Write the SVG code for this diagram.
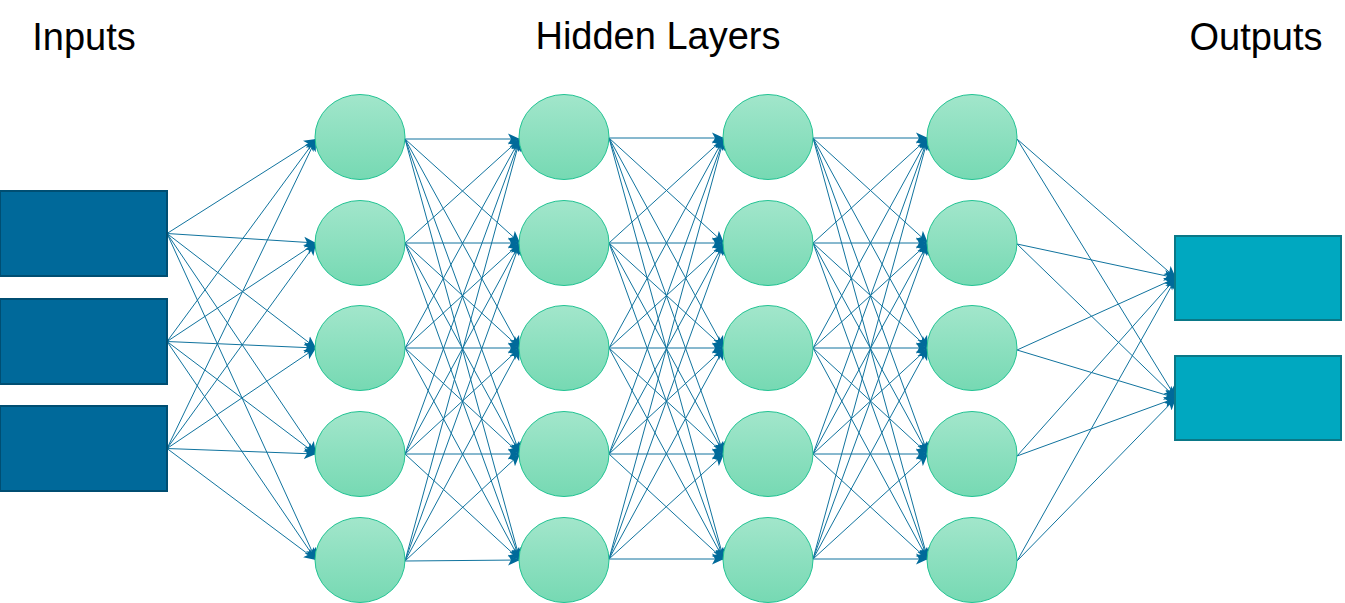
<svg xmlns="http://www.w3.org/2000/svg" width="1345" height="603" viewBox="0 0 1345 603">
<style>
.title{font-family:"Liberation Sans",Arial,sans-serif;font-size:38px;fill:#000;text-anchor:middle}
.inp{fill:#00699a;stroke:#004e72;stroke-width:2}
.out{fill:#00a8c0;stroke:#0a7887;stroke-width:2}
.neu{fill:url(#ng);stroke:#22c393;stroke-width:1}
#connectors line{stroke:#10739e;stroke-width:1;fill:none;marker-end:url(#ah)}
</style>
<defs>
<linearGradient id="ng" x1="0" y1="0" x2="0" y2="1">
<stop offset="0" stop-color="#a2e6cb"/>
<stop offset="1" stop-color="#76d9b3"/>
</linearGradient>
<marker id="ah" markerUnits="userSpaceOnUse" markerWidth="13" markerHeight="12" refX="12" refY="6" orient="auto" viewBox="0 0 13 12">
<path d="M0,0.5 L12,6 L0,11.5 L3,6 Z" fill="#006a9a"/>
</marker>
</defs>
<rect width="1345" height="603" fill="#ffffff"/>
<g id="titles">
<text class="title" x="84" y="50">Inputs</text>
<text class="title" x="658" y="49">Hidden Layers</text>
<text class="title" x="1256" y="50">Outputs</text>
</g>
<g id="connectors">
<line x1="167" y1="233.5" x2="316" y2="139"/>
<line x1="167" y1="233.5" x2="316" y2="243"/>
<line x1="167" y1="233.5" x2="316" y2="348"/>
<line x1="167" y1="233.5" x2="316" y2="454"/>
<line x1="167" y1="233.5" x2="316" y2="560"/>
<line x1="167" y1="341.5" x2="316" y2="139"/>
<line x1="167" y1="341.5" x2="316" y2="243"/>
<line x1="167" y1="341.5" x2="316" y2="348"/>
<line x1="167" y1="341.5" x2="316" y2="454"/>
<line x1="167" y1="341.5" x2="316" y2="560"/>
<line x1="167" y1="448.5" x2="316" y2="139"/>
<line x1="167" y1="448.5" x2="316" y2="243"/>
<line x1="167" y1="448.5" x2="316" y2="348"/>
<line x1="167" y1="448.5" x2="316" y2="454"/>
<line x1="167" y1="448.5" x2="316" y2="560"/>

<line x1="405" y1="139" x2="520" y2="139"/>
<line x1="405" y1="139" x2="520" y2="243"/>
<line x1="405" y1="139" x2="520" y2="348"/>
<line x1="405" y1="139" x2="520" y2="454"/>
<line x1="405" y1="139" x2="520" y2="560"/>
<line x1="405" y1="243" x2="520" y2="139"/>
<line x1="405" y1="243" x2="520" y2="243"/>
<line x1="405" y1="243" x2="520" y2="348"/>
<line x1="405" y1="243" x2="520" y2="454"/>
<line x1="405" y1="243" x2="520" y2="560"/>
<line x1="405" y1="348" x2="520" y2="139"/>
<line x1="405" y1="348" x2="520" y2="243"/>
<line x1="405" y1="348" x2="520" y2="348"/>
<line x1="405" y1="348" x2="520" y2="454"/>
<line x1="405" y1="348" x2="520" y2="560"/>
<line x1="405" y1="454" x2="520" y2="139"/>
<line x1="405" y1="454" x2="520" y2="243"/>
<line x1="405" y1="454" x2="520" y2="348"/>
<line x1="405" y1="454" x2="520" y2="454"/>
<line x1="405" y1="454" x2="520" y2="560"/>
<line x1="405" y1="561" x2="520" y2="139"/>
<line x1="405" y1="561" x2="520" y2="243"/>
<line x1="405" y1="561" x2="520" y2="348"/>
<line x1="405" y1="561" x2="520" y2="454"/>
<line x1="405" y1="561" x2="520" y2="560"/>

<line x1="609" y1="138" x2="724" y2="138"/>
<line x1="609" y1="138" x2="724" y2="243"/>
<line x1="609" y1="138" x2="724" y2="348"/>
<line x1="609" y1="138" x2="724" y2="454"/>
<line x1="609" y1="138" x2="724" y2="560"/>
<line x1="609" y1="243" x2="724" y2="138"/>
<line x1="609" y1="243" x2="724" y2="243"/>
<line x1="609" y1="243" x2="724" y2="348"/>
<line x1="609" y1="243" x2="724" y2="454"/>
<line x1="609" y1="243" x2="724" y2="560"/>
<line x1="609" y1="348" x2="724" y2="138"/>
<line x1="609" y1="348" x2="724" y2="243"/>
<line x1="609" y1="348" x2="724" y2="348"/>
<line x1="609" y1="348" x2="724" y2="454"/>
<line x1="609" y1="348" x2="724" y2="560"/>
<line x1="609" y1="454" x2="724" y2="138"/>
<line x1="609" y1="454" x2="724" y2="243"/>
<line x1="609" y1="454" x2="724" y2="348"/>
<line x1="609" y1="454" x2="724" y2="454"/>
<line x1="609" y1="454" x2="724" y2="560"/>
<line x1="609" y1="559" x2="724" y2="138"/>
<line x1="609" y1="559" x2="724" y2="243"/>
<line x1="609" y1="559" x2="724" y2="348"/>
<line x1="609" y1="559" x2="724" y2="454"/>
<line x1="609" y1="559" x2="724" y2="559"/>

<line x1="813" y1="138" x2="928" y2="138"/>
<line x1="813" y1="138" x2="928" y2="243"/>
<line x1="813" y1="138" x2="928" y2="348"/>
<line x1="813" y1="138" x2="928" y2="454"/>
<line x1="813" y1="138" x2="928" y2="560"/>
<line x1="813" y1="243" x2="928" y2="138"/>
<line x1="813" y1="243" x2="928" y2="243"/>
<line x1="813" y1="243" x2="928" y2="348"/>
<line x1="813" y1="243" x2="928" y2="454"/>
<line x1="813" y1="243" x2="928" y2="560"/>
<line x1="813" y1="348" x2="928" y2="138"/>
<line x1="813" y1="348" x2="928" y2="243"/>
<line x1="813" y1="348" x2="928" y2="348"/>
<line x1="813" y1="348" x2="928" y2="454"/>
<line x1="813" y1="348" x2="928" y2="560"/>
<line x1="813" y1="454" x2="928" y2="138"/>
<line x1="813" y1="454" x2="928" y2="243"/>
<line x1="813" y1="454" x2="928" y2="348"/>
<line x1="813" y1="454" x2="928" y2="454"/>
<line x1="813" y1="454" x2="928" y2="560"/>
<line x1="813" y1="559" x2="928" y2="138"/>
<line x1="813" y1="559" x2="928" y2="243"/>
<line x1="813" y1="559" x2="928" y2="348"/>
<line x1="813" y1="559" x2="928" y2="454"/>
<line x1="813" y1="559" x2="928" y2="559"/>

<line x1="1017" y1="139" x2="1176" y2="278"/>
<line x1="1017" y1="139" x2="1176" y2="398"/>
<line x1="1017" y1="244" x2="1176" y2="278"/>
<line x1="1017" y1="244" x2="1176" y2="398"/>
<line x1="1017" y1="350" x2="1176" y2="278"/>
<line x1="1017" y1="350" x2="1176" y2="398"/>
<line x1="1017" y1="456" x2="1176" y2="278"/>
<line x1="1017" y1="456" x2="1176" y2="398"/>
<line x1="1017" y1="561" x2="1176" y2="278"/>
<line x1="1017" y1="561" x2="1176" y2="398"/>
</g>
<g id="input1"><rect class="inp" x="0" y="191" width="167" height="85"/></g>
<g id="input2"><rect class="inp" x="0" y="299" width="167" height="85"/></g>
<g id="input3"><rect class="inp" x="0" y="406" width="167" height="85"/></g>
<g id="h1n1"><ellipse class="neu" cx="360" cy="137" rx="45" ry="42.5"/></g>
<g id="h1n2"><ellipse class="neu" cx="360" cy="243" rx="45" ry="42.5"/></g>
<g id="h1n3"><ellipse class="neu" cx="360" cy="348" rx="45" ry="42.5"/></g>
<g id="h1n4"><ellipse class="neu" cx="360" cy="454" rx="45" ry="42.5"/></g>
<g id="h1n5"><ellipse class="neu" cx="360" cy="560" rx="45" ry="42.5"/></g>
<g id="h2n1"><ellipse class="neu" cx="564" cy="137" rx="45" ry="42.5"/></g>
<g id="h2n2"><ellipse class="neu" cx="564" cy="243" rx="45" ry="42.5"/></g>
<g id="h2n3"><ellipse class="neu" cx="564" cy="348" rx="45" ry="42.5"/></g>
<g id="h2n4"><ellipse class="neu" cx="564" cy="454" rx="45" ry="42.5"/></g>
<g id="h2n5"><ellipse class="neu" cx="564" cy="560" rx="45" ry="42.5"/></g>
<g id="h3n1"><ellipse class="neu" cx="768" cy="137" rx="45" ry="42.5"/></g>
<g id="h3n2"><ellipse class="neu" cx="768" cy="243" rx="45" ry="42.5"/></g>
<g id="h3n3"><ellipse class="neu" cx="768" cy="348" rx="45" ry="42.5"/></g>
<g id="h3n4"><ellipse class="neu" cx="768" cy="454" rx="45" ry="42.5"/></g>
<g id="h3n5"><ellipse class="neu" cx="768" cy="560" rx="45" ry="42.5"/></g>
<g id="h4n1"><ellipse class="neu" cx="972" cy="137" rx="45" ry="42.5"/></g>
<g id="h4n2"><ellipse class="neu" cx="972" cy="243" rx="45" ry="42.5"/></g>
<g id="h4n3"><ellipse class="neu" cx="972" cy="348" rx="45" ry="42.5"/></g>
<g id="h4n4"><ellipse class="neu" cx="972" cy="454" rx="45" ry="42.5"/></g>
<g id="h4n5"><ellipse class="neu" cx="972" cy="560" rx="45" ry="42.5"/></g>
<g id="output1"><rect class="out" x="1175" y="236" width="166" height="84"/></g>
<g id="output2"><rect class="out" x="1175" y="356" width="166" height="84"/></g>
</svg>
